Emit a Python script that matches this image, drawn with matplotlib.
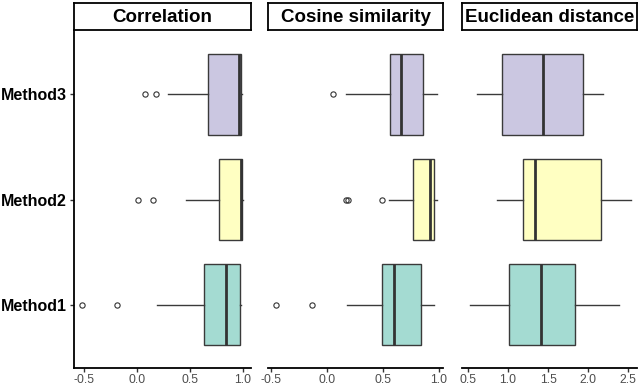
import matplotlib
matplotlib.use("Agg")
import matplotlib.pyplot as plt

# Categories and panels
methods = ["Method1", "Method2", "Method3"]
panels = ["Correlation", "Cosine similarity", "Euclidean distance"]
colors = ["#8DD3C7", "#FFFFB3", "#BEBADA"]

# Box statistics: [whislo, q1, med, q3, whishi] per method
corr_stats = [[0.19, 0.63, 0.84, 0.97, 0.98],
              [0.46, 0.77, 0.98, 0.99, 0.995],
              [0.29, 0.67, 0.96, 0.98, 0.99]]
corr_fliers = [[-0.52, -0.19], [0.01, 0.15], [0.075, 0.18]]

cos_stats = [[0.18, 0.49, 0.60, 0.84, 0.96],
             [0.55, 0.77, 0.92, 0.96, 0.98],
             [0.17, 0.56, 0.66, 0.86, 0.98]]
cos_fliers = [[-0.455, -0.134], [0.17, 0.19, 0.49], [0.055]]

euc_stats = [[0.525, 1.01, 1.41, 1.83, 2.39],
             [0.86, 1.19, 1.34, 2.16, 2.54],
             [0.61, 0.92, 1.44, 1.93, 2.19]]
euc_fliers = [[], [], []]

all_stats = [corr_stats, cos_stats, euc_stats]
all_fliers = [corr_fliers, cos_fliers, euc_fliers]
xlims = [(-0.594, 1.075), (-0.527, 1.036), (0.425, 2.61)]
xticks = [[-0.5, 0.0, 0.5, 1.0], [-0.5, 0.0, 0.5, 1.0], [0.5, 1.0, 1.5, 2.0, 2.5]]

plt.rcParams['font.family'] = ['Liberation Sans', 'DejaVu Sans']

fig = plt.figure(figsize=(6.4, 3.86), dpi=100)
lefts = [74 / 640, 268 / 640, 462 / 640]
widths = [177 / 640, 175 / 640, 175 / 640]
bottom = 18 / 386
height = 337 / 386

for i in range(3):
    ax = fig.add_axes([lefts[i], bottom, widths[i], height])
    stats = []
    for j, m in enumerate(methods):
        s = all_stats[i][j]
        stats.append(dict(whislo=s[0], q1=s[1], med=s[2], q3=s[3], whishi=s[4],
                          fliers=all_fliers[i][j], label=m))
    bp = ax.bxp(stats, positions=[1, 2, 3], widths=0.77, vert=False,
                patch_artist=True, showcaps=False,
                boxprops=dict(edgecolor="#3a3a3a", linewidth=1.0),
                whiskerprops=dict(color="#3a3a3a", linewidth=1.0),
                medianprops=dict(color="#333333", linewidth=2.0),
                flierprops=dict(marker="o", markersize=3.8, markerfacecolor="none",
                                markeredgecolor="#333333", markeredgewidth=0.8))
    # Set3 colours with alpha 0.8, as in the reference
    for patch, c in zip(bp["boxes"], colors):
        fc = matplotlib.colors.to_rgba(c)
        patch.set_facecolor((fc[0], fc[1], fc[2], 0.8))

    ax.set_ylim(0.4, 3.6)
    ax.set_xlim(*xlims[i])
    ax.set_xticks(xticks[i])
    ax.set_xticklabels([f"{t:.1f}" for t in xticks[i]])
    ax.tick_params(axis="x", length=3, width=1, colors="#333333", labelsize=8.8,
                   labelcolor="#4D4D4D", pad=1)
    for sp in ["top", "right"]:
        ax.spines[sp].set_visible(False)
    ax.spines["bottom"].set_linewidth(1.3)
    if i == 0:
        ax.spines["left"].set_linewidth(1.3)
        ax.set_yticks([1, 2, 3])
        ax.set_yticklabels(methods, fontsize=11.5, fontweight="bold", color="black")
        ax.tick_params(axis="y", length=3, width=1, colors="#333333", pad=2,
                       labelcolor="black")
    else:
        ax.spines["left"].set_visible(False)
        ax.set_yticks([])

    # facet strip
    sax = fig.add_axes([lefts[i], 356 / 386, widths[i], 27 / 386])
    sax.set_xticks([])
    sax.set_yticks([])
    for sp in sax.spines.values():
        sp.set_linewidth(1.3)
        sp.set_color("black")
    sax.text(0.5, 0.47, panels[i], ha="center", va="center", fontsize=13.5,
             fontweight="bold", transform=sax.transAxes)

fig.savefig("out.png", dpi=100)
